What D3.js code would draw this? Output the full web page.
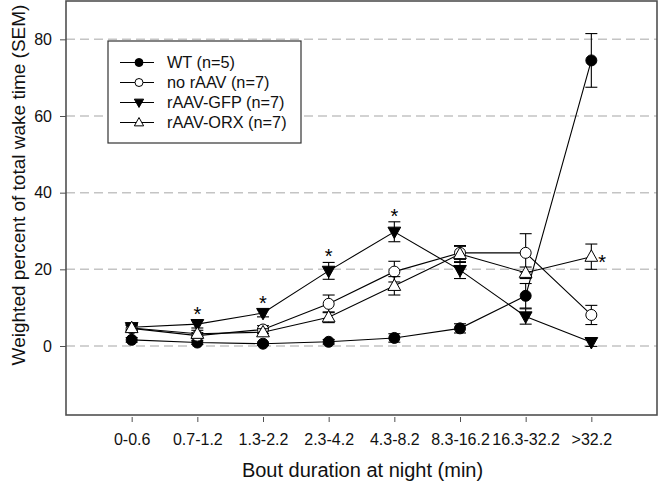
<!DOCTYPE html>
<html><head><meta charset="utf-8">
<script src="https://cdn.jsdelivr.net/npm/d3@7"></script>
<style>body{margin:0;background:#fff}svg{display:block}text{font-family:"Liberation Sans",Arial,sans-serif}</style>
</head><body>
<svg id="c" width="660" height="486"></svg>
<script>
const categories = ["0-0.6","0.7-1.2","1.3-2.2","2.3-4.2","4.3-8.2","8.3-16.2","16.3-32.2",">32.2"];
const yTicks = [0,20,40,60,80];
const wtMean    = [1.6, 0.9, 0.6, 1.1, 2.1, 4.6, 13.1, 74.5];
const wtSem     = [0.6, 0.5, 0.4, 0.6, 1.1, 1.2, 3.2, 7.0];
const noMean    = [4.6, 2.7, 4.3, 11.0, 19.4, 24.3, 24.3, 8.1];
const noSem     = [0.8, 0.8, 1.0, 2.3, 2.7, 1.7, 5.0, 2.5];
const gfpMean   = [4.9, 5.7, 8.6, 19.6, 29.8, 19.8, 7.7, 1.0];
const gfpSem    = [0.7, 1.0, 1.0, 2.2, 2.6, 2.2, 2.0, 1.1];
const orxMean   = [4.7, 3.2, 3.6, 7.5, 15.7, 24.0, 19.1, 23.3];
const orxSem    = [0.7, 0.9, 0.9, 1.4, 2.4, 2.2, 1.5, 3.3];
const gfpStars  = [1, 2, 3, 4];
const orxStars  = [7];
const seriesNames = ["WT (n=5)","no rAAV (n=7)","rAAV-GFP (n=7)","rAAV-ORX (n=7)"];

const series = [
  {name: seriesNames[0], mean: wtMean, sem: wtSem, shape: "circle", fill: "#000"},
  {name: seriesNames[1], mean: noMean, sem: noSem, shape: "circle", fill: "#fff"},
  {name: seriesNames[2], mean: gfpMean, sem: gfpSem, shape: "down", fill: "#000"},
  {name: seriesNames[3], mean: orxMean, sem: orxSem, shape: "up", fill: "#fff"}
];

const svg = d3.select("#c");
const L = 66, R = 657, T = 1, B = 415;
const x = d3.scaleLinear().domain([0, categories.length + 1]).range([L, R]);
const y = d3.scaleLinear().domain([-18, 90]).range([B, T]);
const frameCol = "#505050";

// grid
svg.append("g").selectAll("line").data(yTicks).join("line")
  .attr("x1", L).attr("x2", R).attr("y1", d => y(d)).attr("y2", d => y(d))
  .attr("stroke", "#c4c4c4").attr("stroke-width", 1.5).attr("stroke-dasharray", "9,5");

// y axis
const yAx = svg.append("g").attr("transform", `translate(${L},0)`)
  .call(d3.axisLeft(y).tickValues(yTicks).tickSize(6).tickPadding(8));
yAx.select(".domain").remove();
yAx.selectAll("line").attr("stroke", frameCol);
yAx.selectAll("text").attr("font-size", 16).attr("fill", "#111").attr("font-family", '"Liberation Sans",Arial,sans-serif');

// x axis (offset below the frame)
const xAx = svg.append("g").attr("transform", `translate(0,${B + 2})`)
  .call(d3.axisBottom(x).tickValues(d3.range(1, categories.length + 1)).tickFormat(i => categories[i - 1]).tickSize(5).tickPadding(12));
xAx.select(".domain").remove();
xAx.selectAll("line").attr("stroke", frameCol);
xAx.selectAll("text").attr("font-size", 16).attr("fill", "#111").attr("font-family", '"Liberation Sans",Arial,sans-serif');

// frame
svg.append("rect").attr("x", L).attr("y", T).attr("width", R - L).attr("height", B - T)
  .attr("fill", "none").attr("stroke", frameCol).attr("stroke-width", 1.6);

function markerPath(shape, s) {
  if (shape === "up") return `M0,${-s * 0.62}L${s * 0.58},${s * 0.42}L${-s * 0.58},${s * 0.42}Z`;
  if (shape === "down") return `M0,${s * 0.62}L${s * 0.58},${-s * 0.42}L${-s * 0.58},${-s * 0.42}Z`;
  return null;
}
function drawMarker(g, shape, fill, cx, cy, s) {
  if (shape === "circle") {
    g.append("circle").attr("cx", cx).attr("cy", cy).attr("r", s / 2)
      .attr("fill", fill).attr("stroke", "#000").attr("stroke-width", 1);
  } else {
    g.append("path").attr("d", markerPath(shape, s)).attr("transform", `translate(${cx},${cy})`)
      .attr("fill", fill).attr("stroke", "#000").attr("stroke-width", 1).attr("stroke-linejoin", "miter");
  }
}

const line = d3.line().x((d, i) => x(i + 1)).y(d => y(d));
const plot = svg.append("g");
series.forEach(s => {
  const g = plot.append("g");
  g.append("path").attr("d", line(s.mean)).attr("fill", "none").attr("stroke", "#000").attr("stroke-width", 1.1);
  s.mean.forEach((m, i) => {
    const cx = x(i + 1), y1 = y(m + s.sem[i]), y0 = y(m - s.sem[i]);
    g.append("line").attr("x1", cx).attr("x2", cx).attr("y1", y1).attr("y2", y0).attr("stroke", "#000").attr("stroke-width", 1.1);
    [y1, y0].forEach(yy => g.append("line").attr("x1", cx - 6).attr("x2", cx + 6).attr("y1", yy).attr("y2", yy).attr("stroke", "#000").attr("stroke-width", 1.1));
  });
  s.mean.forEach((m, i) => drawMarker(g, s.shape, s.fill, x(i + 1), y(m), 11));
});

// significance stars
gfpStars.forEach(i => {
  svg.append("text").attr("x", x(i + 1)).attr("y", y(gfpMean[i] + gfpSem[i]) + 1)
    .attr("text-anchor", "middle").attr("font-size", 20).text("*");
});
orxStars.forEach(i => {
  svg.append("text").attr("x", x(i + 1) + 7).attr("y", y(orxMean[i]) + 12)
    .attr("text-anchor", "start").attr("font-size", 20).text("*");
});

// legend
const lg = svg.append("g");
lg.append("rect").attr("x", 108).attr("y", 41).attr("width", 193).attr("height", 102)
  .attr("fill", "#fff").attr("stroke", "#333").attr("stroke-width", 1.2);
series.forEach((s, k) => {
  const ly = 62.5 + k * 20;
  lg.append("line").attr("x1", 120).attr("x2", 154).attr("y1", ly).attr("y2", ly).attr("stroke", "#000").attr("stroke-width", 1.1);
  drawMarker(lg, s.shape, s.fill, 139, ly, 8);
  lg.append("text").attr("x", 167).attr("y", ly).attr("dy", "0.35em").attr("font-size", 16.3).attr("fill", "#111").text(s.name);
});

// axis titles
svg.append("text").attr("x", (L + R) / 2 + 1).attr("y", 477).attr("text-anchor", "middle")
  .attr("font-size", 20).attr("fill", "#111").text("Bout duration at night (min)");
svg.append("text").attr("transform", "translate(25,185) rotate(-90)").attr("text-anchor", "middle")
  .attr("font-size", 19).attr("fill", "#111").text("Weighted percent of total wake time (SEM)");
</script>
</body></html>
